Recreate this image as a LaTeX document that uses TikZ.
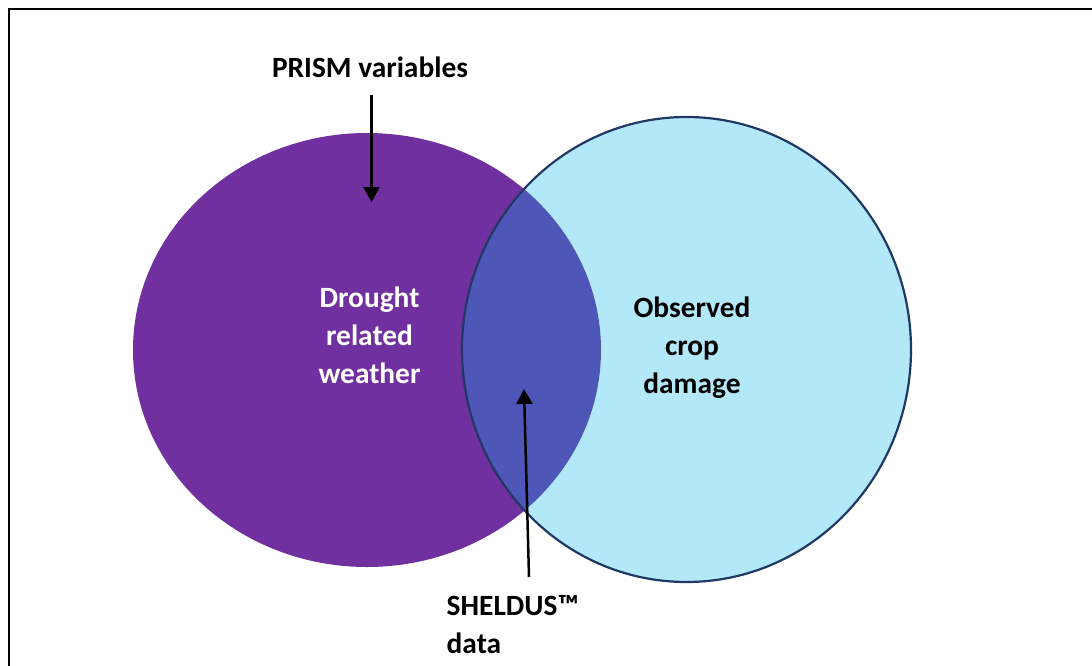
\documentclass[tikz,border=0pt]{standalone}
\usepackage{fontspec}
\setmainfont{Carlito}
\usetikzlibrary{arrows.meta}
\definecolor{weatherpurple}{HTML}{7030A0}
\definecolor{damageblue}{HTML}{B3E8F8}
\definecolor{overlapblue}{HTML}{4E57B8}
\definecolor{rimnavy}{HTML}{1F3864}
\newcommand{\LBL}[1]{\fontsize{29.4}{38}\selectfont\bfseries #1}

\begin{document}
\begin{tikzpicture}[x=1pt, y=-1pt,
  lbl/.style={inner sep=0pt, font=\LBL{}},
  arr/.style={line width=2.5pt, -{Triangle[width=16pt, length=15pt]}}]

  \useasboundingbox (0,0) rectangle (1092,666);

  %% frame (only top and left edges show)
  \draw[line width=2.5pt] (9,666) -- (9,9) -- (1092,9);

  \newcommand\WX{367};
  \newcommand\DX{686.5};

  %% the two sets
  \fill[weatherpurple] (\WX, 350) ellipse [x radius=234, y radius=217];
  \fill[damageblue] (\DX, 349.5) ellipse [x radius=224.5, y radius=232.5];
  \begin{scope}
    \clip (\WX, 350) ellipse [x radius=234, y radius=217];
    \fill[overlapblue] (\DX, 349.5) ellipse [x radius=224.5, y radius=232.5];
  \end{scope}
  \draw[rimnavy, line width=2.2pt] (\DX, 349.5) ellipse [x radius=224.5, y radius=232.5];

  %% labels
  \node[lbl] (prism) at (370, 67.5) {PRISM variables};
  \node[lbl, white, align=center] (weather) at (369.5, 335.5) {Drought\\related\\weather};
  \node[lbl, align=center] (damage) at (692, 348) {Observed\\crop\\damage};
  \node[lbl, align=left, anchor=west] (sheldus) at (446.5, 625) {SHELDUS™\\data};

  %% pointers
  \coordinate (prismtip) at (371.5, 202);
  \coordinate (sheldustip) at (524, 389);
  \coordinate (sheldusfoot) at (529, 577);
  \draw[arr, shorten <=17pt] (prism.south -| prismtip) -- (prismtip); % PRISM -> weather
  \draw[arr] (sheldusfoot) -- (sheldustip); % SHELDUS -> overlap
\end{tikzpicture}
\end{document}
